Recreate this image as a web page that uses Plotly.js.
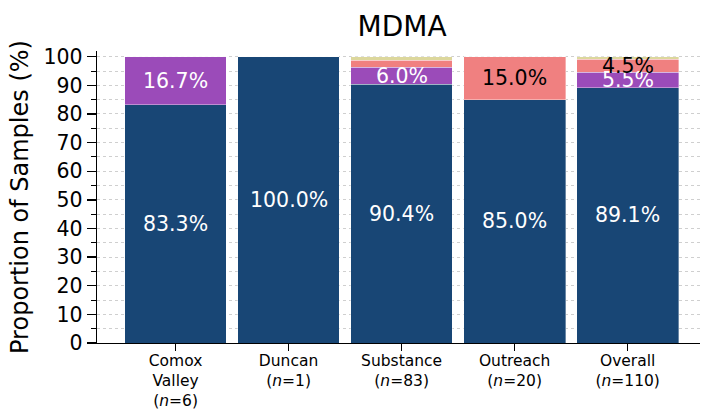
<!DOCTYPE html>
<html>
<head>
<meta charset="utf-8">
<script src="https://cdn.plot.ly/plotly-3.0.1.min.js"></script>
<style>html,body{margin:0;padding:0;overflow:hidden;background:#fff;}</style>
</head>
<body>
<div id="chart" style="width:704px;height:410px;"></div>
<script>
const categories = ['Comox Valley', 'Duncan', 'Substance', 'Outreach', 'Overall'];
const tickLabels = ['Comox<br>Valley<br>(<i>n</i>=6)', 'Duncan<br>(<i>n</i>=1)', 'Substance<br>(<i>n</i>=83)', 'Outreach<br>(<i>n</i>=20)', 'Overall<br>(<i>n</i>=110)'];
const seriesNames = ['Series 1', 'Series 2', 'Series 3', 'Series 4'];
const series1 = [83.3, 100.0, 90.4, 85.0, 89.1];
const series2 = [16.7, 0, 6.0, 0, 5.5];
const series3 = [0, 0, 2.4, 15.0, 4.5];
const series4 = [0, 0, 1.2, 0, 0.9];
const yTicks = [0, 10, 20, 30, 40, 50, 60, 70, 80, 90, 100];

const allSeries = [series1, series2, series3, series4];
const colors = ['#184675', '#9b4bb9', '#f08080', '#dcd79c'];
const labelColors = ['#ffffff', '#ffffff', '#000000', '#000000'];
const font = 'DejaVu Sans, sans-serif';

const traces = allSeries.map((vals, i) => ({
  type: 'bar',
  name: seriesNames[i],
  x: categories,
  y: vals,
  width: 0.9,
  marker: {color: colors[i], line: {color: 'rgba(255,255,255,0.6)', width: 0.6}},
  hoverinfo: 'skip',
  showlegend: false
}));

const annotations = [];
const cum = categories.map(() => 0);
allSeries.forEach((vals, i) => {
  vals.forEach((v, j) => {
    if (v >= 4) {
      annotations.push({
        x: categories[j], y: cum[j] + v / 2, xref: 'x', yref: 'y',
        text: v.toFixed(1) + '%', showarrow: false,
        font: {family: font, size: 20.5, color: labelColors[i]},
        xanchor: 'center', yanchor: 'middle'
      });
    }
    cum[j] += v;
  });
});

const layout = {
  width: 704, height: 410,
  margin: {l: 97, r: 4, t: 51, b: 67, pad: 0},
  paper_bgcolor: '#ffffff', plot_bgcolor: '#ffffff',
  barmode: 'stack',
  font: {family: font, color: '#000'},
  title: {text: 'MDMA', font: {family: font, size: 28, color: '#000'}, x: 0.506, xref: 'paper', xanchor: 'center', y: 0.937, yref: 'container', yanchor: 'middle'},
  xaxis: {
    range: [-0.695, 4.64],
    tickmode: 'array', tickvals: categories, ticktext: tickLabels,
    ticks: 'outside', ticklen: 7, tickwidth: 1.3, tickcolor: '#000',
    ticklabelstandoff: -4,
    showline: true, linecolor: '#000', linewidth: 1.3,
    showgrid: false, zeroline: false,
    tickfont: {family: font, size: 15.5, color: '#000'}
  },
  yaxis: {
    range: [0, 102],
    tickmode: 'array', tickvals: yTicks,
    ticks: 'outside', ticklen: 9, tickwidth: 1.3, tickcolor: '#000',
    showline: true, linecolor: '#000', linewidth: 1.3,
    showgrid: true, gridcolor: '#cfcfcf', griddash: 'dot', gridwidth: 1,
    minor: {dtick: 5, tick0: 0, ticks: 'outside', ticklen: 5, tickwidth: 1, tickcolor: '#000', showgrid: true, gridcolor: '#cfcfcf', griddash: 'dot', gridwidth: 1},
    zeroline: false,
    tickfont: {family: font, size: 20.5, color: '#000'},
    title: {text: 'Proportion of Samples (%)', font: {family: font, size: 24, color: '#000'}, standoff: 8}
  },
  annotations: annotations
};

Plotly.newPlot('chart', traces, layout, {displayModeBar: false, staticPlot: true});
</script>
</body>
</html>
